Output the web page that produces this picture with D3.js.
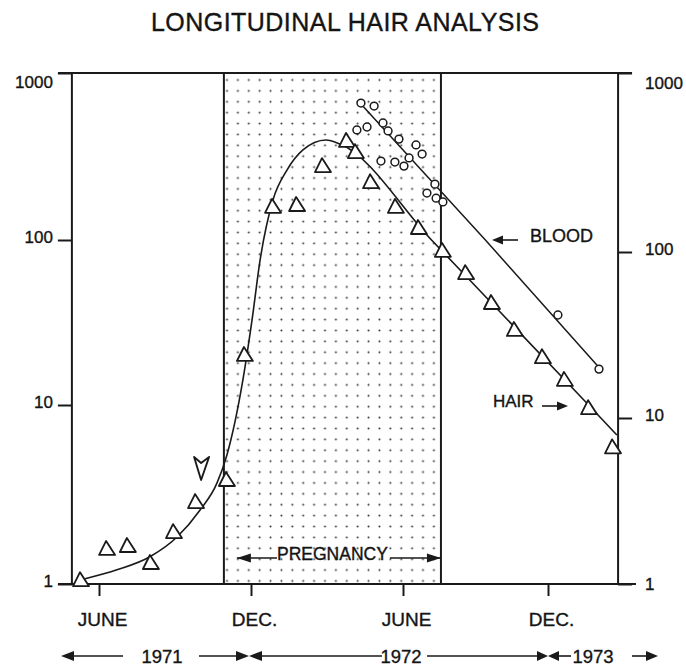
<!DOCTYPE html>
<html><head><meta charset="utf-8">
<script src="https://cdn.jsdelivr.net/npm/d3@7"></script>
<style>
html,body{margin:0;padding:0;background:#fff}
svg{display:block}
text{font-family:"Liberation Sans",Arial,Helvetica,sans-serif;fill:#141414;stroke:#141414;stroke-width:0.35px}
</style>
</head><body><svg id="c" width="686" height="668"></svg>
<script>
// ---------- data (months counted from Jan 1971 = 0; value on log scale) ----------
const monthTicks = [5, 11, 17, 23];
const monthLabels = ["JUNE", "DEC.", "JUNE", "DEC."];
const yearLabels = ["1971", "1972", "1973"];
const valueTicks = [1, 10, 100, 1000];
const valueTickLabels = ["1", "10", "100", "1000"];
const plotMonths = [3.93, 25.9];
const pregnancy = [9.93, 18.57];

const hairMonths = [4.29, 5.32, 6.14, 7.05, 7.96, 8.83, 10.05, 10.76, 11.87, 12.82, 13.84, 14.79, 15.14, 15.74, 16.72, 17.66, 18.65, 19.61, 20.68, 21.63, 22.79, 23.70, 24.70, 25.69];
const hairValues = [1.05, 1.57, 1.63, 1.31, 1.95, 2.87, 3.81, 20.1, 158, 162, 277, 392, 336, 222, 158, 118, 86, 63, 41.5, 28.5, 19.5, 14.2, 9.6, 5.8];

const oddMonths = [9.03];
const oddValues = [4.45];

const hairCurveMonths = [4.45, 5.71, 7.01, 8.08, 8.99, 9.66, 10.05, 10.68, 11.04, 11.36, 11.87, 12.42, 13.05, 13.96, 14.51, 18.18, 24.68, 25.85];
const hairCurveValues = [1.07, 1.2, 1.42, 1.83, 2.59, 3.67, 5.26, 14.2, 32.7, 75.7, 174, 262, 346, 397, 376, 100, 10, 6.8];

const bloodMonths = [15.34, 15.86, 16.21, 15.58, 15.18, 16.41, 16.84, 17.54, 17.79, 17.25, 16.13, 16.68, 17.04, 18.32, 17.99, 18.37, 18.65, 23.41, 25.11];
const bloodValues = [661, 634, 502, 475, 456, 450, 402, 371, 327, 310, 297, 293, 277, 216, 191, 178, 169, 35.1, 16.5];

const bloodLineMonths = [15.34, 20.41, 25.03];
const bloodLineValues = [652, 100, 17.4];

// ---------- scales ----------
const svg = d3.select("#c");
const ink = "#1a1a1a";
const x = d3.scaleLinear().domain(monthTicks).range([99, 251, 403, 548]);
const y = d3.scaleLog().domain(valueTicks).range([584, 405, 240, 73]);
const yR = d3.scaleLog().domain(valueTicks).range([584, 418, 252, 73]);

const xL = x(plotMonths[0]), xRt = x(plotMonths[1]);
const yTop = y(1000), yBot = y(1);

// stipple pattern
const defs = svg.append("defs");
const sp = 10.89;
const pat = defs.append("pattern").attr("id", "dots").attr("patternUnits", "userSpaceOnUse")
  .attr("width", sp).attr("height", sp).attr("x", 227 - sp / 2).attr("y", 80 - sp / 2);
pat.append("circle").attr("cx", sp / 2).attr("cy", sp / 2).attr("r", 1).attr("fill", "#333");

svg.append("rect")
  .attr("x", x(pregnancy[0])).attr("y", yTop)
  .attr("width", x(pregnancy[1]) - x(pregnancy[0])).attr("height", yBot - yTop)
  .attr("fill", "url(#dots)");

// title
svg.append("text").attr("x", 345).attr("y", 31).attr("text-anchor", "middle")
  .attr("font-size", 25).attr("textLength", 388).attr("lengthAdjust", "spacing")
  .text("LONGITUDINAL HAIR ANALYSIS");

// frame lines
const frame = svg.append("g").attr("stroke", ink).attr("stroke-width", 2).attr("fill", "none");
frame.append("line").attr("x1", 58).attr("x2", 632).attr("y1", yTop).attr("y2", yTop);
frame.append("line").attr("x1", 58).attr("x2", 636).attr("y1", yBot).attr("y2", yBot);
[plotMonths[0], pregnancy[0], pregnancy[1], plotMonths[1]].forEach(m => {
  frame.append("line").attr("x1", x(m)).attr("x2", x(m)).attr("y1", yTop).attr("y2", yBot);
});

// axes
function styleAxis(g) {
  g.select(".domain").remove();
  g.selectAll(".tick line").attr("stroke", ink).attr("stroke-width", 2);
  g.selectAll(".tick text").attr("fill", "#141414").attr("stroke", "#141414").attr("stroke-width", 0.35)
    .attr("font-family", '"Liberation Sans",Arial,sans-serif');
}
const gl = svg.append("g").attr("transform", `translate(${xL},0)`)
  .call(d3.axisLeft(y).tickValues(valueTicks).tickSize(14).tickPadding(5)
    .tickFormat((d, i) => valueTickLabels[i]));
styleAxis(gl);
gl.selectAll(".tick text").attr("font-size", 17).attr("dy", d => d === 1000 ? "0.85em" : "0.12em");

const gr = svg.append("g").attr("transform", `translate(${xRt},0)`)
  .call(d3.axisRight(yR).tickValues(valueTicks).tickSize(14).tickPadding(13)
    .tickFormat((d, i) => valueTickLabels[i]));
styleAxis(gr);
gr.selectAll(".tick text").attr("font-size", 17).attr("dy", d => d === 1000 ? "0.92em" : (d === 1 ? "0.35em" : "0.12em"));

const gb = svg.append("g").attr("transform", `translate(0,${yBot})`)
  .call(d3.axisBottom(x).tickValues(monthTicks).tickSize(12).tickPadding(17)
    .tickFormat((d, i) => monthLabels[i]));
styleAxis(gb);
gb.selectAll(".tick text").attr("font-size", 19).attr("dx", 3);

// curves
const line = d3.line().x(d => x(d[0])).y(d => y(d[1]));
svg.append("path")
  .datum(hairCurveMonths.map((m, i) => [m, hairCurveValues[i]]))
  .attr("d", line.curve(d3.curveMonotoneX))
  .attr("fill", "none").attr("stroke", ink).attr("stroke-width", 1.6);
svg.append("path")
  .datum(bloodLineMonths.map((m, i) => [m, bloodLineValues[i]]))
  .attr("d", d3.line().x(d => x(d[0])).y(d => y(d[1])))
  .attr("fill", "none").attr("stroke", ink).attr("stroke-width", 1.5);

// markers
svg.append("g").selectAll("path")
  .data(hairMonths.map((m, i) => [m, hairValues[i]]))
  .join("path")
  .attr("transform", d => `translate(${x(d[0])},${y(d[1])})`)
  .attr("d", "M-1,-8 L8,6 L-8,6 Z")
  .attr("fill", "#fff").attr("stroke", ink).attr("stroke-width", 1.8).attr("stroke-linejoin", "round");

svg.append("g").selectAll("path")
  .data(oddMonths.map((m, i) => [m, oddValues[i]]))
  .join("path")
  .attr("transform", d => `translate(${x(d[0])},${y(d[1])})`)
  .attr("d", "M-7,-11 L0,-5 L8,-11 L0,12 Z")
  .attr("fill", "#fff").attr("stroke", ink).attr("stroke-width", 1.9).attr("stroke-linejoin", "round");

svg.append("g").selectAll("circle")
  .data(bloodMonths.map((m, i) => [m, bloodValues[i]]))
  .join("circle")
  .attr("cx", d => x(d[0])).attr("cy", d => y(d[1])).attr("r", 3.9)
  .attr("fill", "#fff").attr("stroke", ink).attr("stroke-width", 1.5);

// annotation helpers
function head(tipX, tipY, dir, len = 13, half = 5) {
  svg.append("path")
    .attr("d", `M${tipX},${tipY} L${tipX - dir * len},${tipY - half} L${tipX - dir * len},${tipY + half} Z`)
    .attr("fill", ink);
}
function seg(x1, x2, yy) {
  svg.append("line").attr("x1", x1).attr("x2", x2).attr("y1", yy).attr("y2", yy)
    .attr("stroke", ink).attr("stroke-width", 1.6);
}

// PREGNANCY
const pL = x(pregnancy[0]), pR = x(pregnancy[1]);
svg.append("text").attr("x", (pL + pR) / 2).attr("y", 560).attr("text-anchor", "middle")
  .attr("font-size", 17.5).text("PREGNANCY");
seg(pL + 13, 277, 558); head(pL + 13, 558, -1, 14, 4.5);
seg(390, pR, 558); head(pR, 558, 1, 14, 4.5);

// BLOOD / HAIR labels
svg.append("text").attr("x", 530).attr("y", 241.5).attr("font-size", 18).text("BLOOD");
seg(500, 518, 240); head(492, 240, -1, 11, 4.5);
svg.append("text").attr("x", 493).attr("y", 407).attr("font-size", 17).text("HAIR");
seg(542, 560, 406); head(568, 406, 1, 11, 4.5);

// year row
const yy = 656;
const b1 = x(11) - 2, b2 = x(23);
seg(70, 123, yy); head(61, yy, -1, 13, 5);
seg(199, b1 - 10, yy); head(b1, yy, 1, 13, 5);
head(b1, yy, -1, 13, 5); seg(b1 + 10, 382, yy);
seg(427, b2 - 10, yy); head(b2, yy, 1, 11, 5);
head(b2, yy, -1, 11, 5); seg(b2 + 8, 571, yy);
seg(632, 650, yy); head(658, yy, 1, 12, 5);
[[162, 0], [401, 1], [593, 2]].forEach(([px, i]) => {
  svg.append("text").attr("x", px).attr("y", yy + 6.5).attr("text-anchor", "middle")
    .attr("font-size", 18.5).text(yearLabels[i]);
});
</script>
</body></html>
